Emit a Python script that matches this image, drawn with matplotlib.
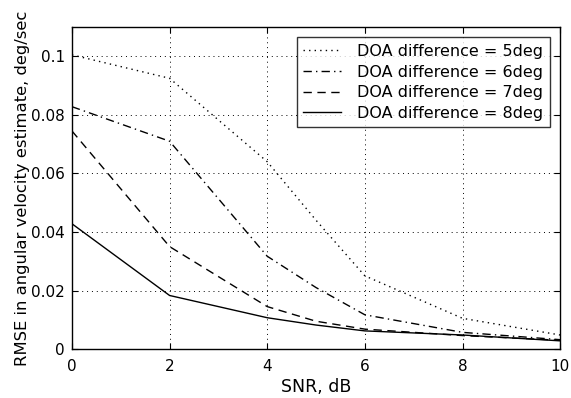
import matplotlib
matplotlib.use("Agg")
import matplotlib.pyplot as plt

plt.rcParams["font.family"] = ["DejaVu Sans"]

snr = [0, 2, 4, 5, 6, 8, 10]
rmse_5deg = [0.1005, 0.0925, 0.064, 0.044, 0.025, 0.0105, 0.0048]
rmse_6deg = [0.0828, 0.071, 0.0317, 0.021, 0.0117, 0.0057, 0.0032]
rmse_7deg = [0.0745, 0.035, 0.0145, 0.0095, 0.0068, 0.0046, 0.003]
rmse_8deg = [0.0428, 0.0183, 0.0107, 0.0082, 0.0062, 0.0048, 0.0028]
labels = ["DOA difference = 5deg", "DOA difference = 6deg",
          "DOA difference = 7deg", "DOA difference = 8deg"]

fig = plt.figure(figsize=(5.71, 3.98), dpi=100)
ax = fig.add_axes([0.126, 0.123, 0.855, 0.809])

ax.plot(snr, rmse_5deg, color="black", linestyle=(0, (1, 3)), lw=1.0, label=labels[0])
ax.plot(snr, rmse_6deg, color="black", linestyle=(0, (6, 3, 1, 3)), lw=1.0, label=labels[1])
ax.plot(snr, rmse_7deg, color="black", linestyle=(0, (6, 4)), lw=1.0, label=labels[2])
ax.plot(snr, rmse_8deg, color="black", linestyle="-", lw=1.0, label=labels[3])

ax.set_xlim(0, 10)
ax.set_ylim(0, 0.11)
ax.set_xticks([0, 2, 4, 6, 8, 10])
ax.set_yticks([0, 0.02, 0.04, 0.06, 0.08, 0.1])
ax.set_yticklabels(["0", "0.02", "0.04", "0.06", "0.08", "0.1"])
ax.tick_params(direction="in", top=True, right=True, labelsize=11, length=4)
ax.tick_params(axis="x", pad=7)
ax.tick_params(axis="y", pad=5)
ax.grid(True, color="black", linestyle=(0, (1, 4)), lw=0.7)
for s in ax.spines.values():
    s.set_linewidth(1.0)

ax.set_xlabel("SNR, dB", fontsize=12.5, labelpad=3)
ax.set_ylabel("RMSE in angular velocity estimate, deg/sec", fontsize=11.8, labelpad=1)

leg = ax.legend(loc="upper right", fontsize=11.5, frameon=True, fancybox=False,
                edgecolor="black", handlelength=2.4, borderpad=0.4,
                labelspacing=0.36, handletextpad=1.0, borderaxespad=0.65)
leg.get_frame().set_linewidth(1.0)

fig.savefig("out.png", dpi=100)
